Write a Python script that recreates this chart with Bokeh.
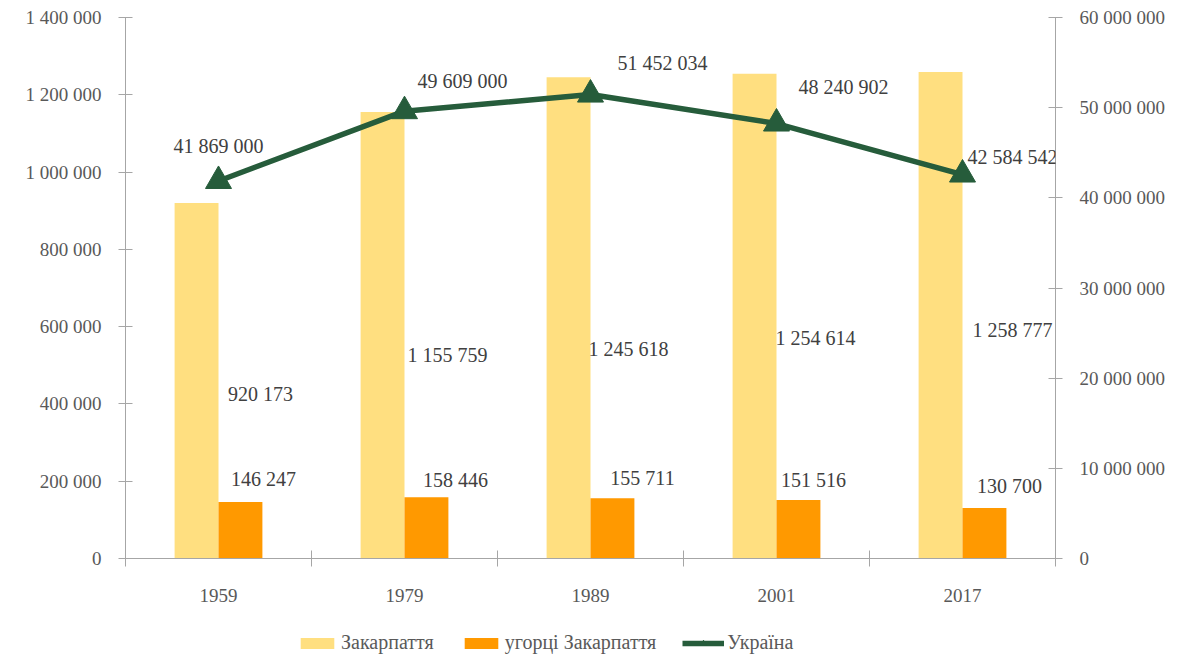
from bokeh.plotting import figure
from bokeh.layouts import column
from bokeh.models import Range1d, LinearAxis, FixedTicker, Legend, LegendItem, Label
from bokeh.embed import file_html
from bokeh.resources import INLINE

# ---- data ----
years = ["1959", "1979", "1989", "2001", "2017"]
zakarpattia = [920173, 1155759, 1245618, 1254614, 1258777]
hungarians = [146247, 158446, 155711, 151516, 130700]
ukraine = [41869000, 49609000, 51452034, 48240902, 42584542]
left_ticks = [0, 200000, 400000, 600000, 800000, 1000000, 1200000, 1400000]
right_ticks = [0, 10000000, 20000000, 30000000, 40000000, 50000000, 60000000]
series_names = ["Закарпаття", "угорці Закарпаття", "Україна"]

# ---- label placement (pixels) ----
zak_dx = [42, 43, 38, 39, 50]
zak_dy = [13, 20, 31, 22, 15]
hun_dx = [45, 51, 52, 37, 47]
hun_dy = [-23, -17, -20, -20, -22]
ukr_dx = [0, 58, 72, 67, 50]
ukr_dy = [-35, -30, -32, -37, -18]


def fmt(v):
    return f"{int(v):,}".replace(",", " ")


FONT = "Liberation Serif"
AXIS_COLOR = "#a6a6a6"
TICK_TEXT = "#595959"
LABEL_TEXT = "#404040"
YELLOW = "#ffdf80"
ORANGE = "#ff9900"
GREEN = "#265c3b"
TICK_SIZE = "19px"
LABEL_SIZE = "20px"
NAN = float("nan")

n = len(years)
xc = [i + 0.5 for i in range(n)]
bw = 0.236

p = figure(frame_width=930, frame_height=541, x_range=Range1d(0, n), y_range=Range1d(0, 1400000),
           x_axis_type=None, y_axis_type=None, output_backend="svg", toolbar_location=None,
           min_border_left=125, min_border_right=135, min_border_top=17, min_border_bottom=50)
p.extra_y_ranges = {"ukr": Range1d(0, 60000000)}
p.xgrid.visible = False
p.ygrid.visible = False
p.outline_line_color = None


def style_axis(ax):
    ax.axis_line_color = AXIS_COLOR
    ax.major_tick_line_color = AXIS_COLOR
    ax.minor_tick_line_color = AXIS_COLOR
    ax.major_label_text_font = FONT
    ax.major_label_text_font_size = TICK_SIZE
    ax.major_label_text_color = TICK_TEXT


xaxis = LinearAxis(ticker=FixedTicker(ticks=xc, minor_ticks=list(range(n + 1))))
style_axis(xaxis)
xaxis.major_tick_in = 0
xaxis.major_tick_out = 0
xaxis.minor_tick_in = 8
xaxis.minor_tick_out = 8
xaxis.major_label_standoff = 22
xaxis.major_label_overrides = {x: y for x, y in zip(xc, years)}
p.add_layout(xaxis, "below")

yl = LinearAxis(ticker=FixedTicker(ticks=left_ticks, minor_ticks=[]))
style_axis(yl)
yl.major_tick_in = 7
yl.major_tick_out = 7
yl.major_label_standoff = 17
yl.major_label_overrides = {t: fmt(t) for t in left_ticks}
p.add_layout(yl, "left")

yr = LinearAxis(y_range_name="ukr", ticker=FixedTicker(ticks=right_ticks, minor_ticks=[]))
style_axis(yr)
yr.major_tick_in = 7
yr.major_tick_out = 7
yr.major_label_standoff = 17
yr.major_label_overrides = {t: fmt(t) for t in right_ticks}
p.add_layout(yr, "right")

# bars
p.vbar(x=[x - bw / 2 for x in xc], top=zakarpattia, width=bw, fill_color=YELLOW, line_color=None)
p.vbar(x=[x + bw / 2 for x in xc], top=hungarians, width=bw, fill_color=ORANGE, line_color=None)

# line
p.line(xc, ukraine, y_range_name="ukr", line_color=GREEN, line_width=5.5)
p.scatter(xc, ukraine, y_range_name="ukr", marker="triangle", size=26,
          fill_color=GREEN, line_color=GREEN)


def add_label(x, y, txt, dx, dy, rng="default"):
    p.add_layout(Label(x=x, y=y, text=txt, x_offset=dx, y_offset=-dy, y_range_name=rng,
                       text_align="center", text_baseline="middle", text_font=FONT,
                       text_font_size=LABEL_SIZE, text_color=LABEL_TEXT))


for i in range(n):
    add_label(xc[i], zakarpattia[i] / 2, fmt(zakarpattia[i]), zak_dx[i], zak_dy[i])
    add_label(xc[i], hungarians[i], fmt(hungarians[i]), hun_dx[i], hun_dy[i])
    add_label(xc[i], ukraine[i], fmt(ukraine[i]), ukr_dx[i], ukr_dy[i], "ukr")

# ---- legend strip (separate figure; its glyphs fall outside its 0..1 range, so only the legend shows) ----
lg = figure(width=1190, height=51, x_range=Range1d(0, 1), y_range=Range1d(0, 1),
            x_axis_type=None, y_axis_type=None, output_backend="svg", toolbar_location=None,
            min_border=0, title=None)
lg.xgrid.visible = False
lg.ygrid.visible = False
lg.outline_line_color = None
r1 = lg.vbar(x=[NAN], top=[NAN], width=bw, fill_color=YELLOW, line_color=None)
r2 = lg.vbar(x=[NAN], top=[NAN], width=bw, fill_color=ORANGE, line_color=None)
r3 = lg.line(x=xc, y=ukraine, line_color=GREEN, line_width=5.5)
r4 = lg.scatter(x=xc, y=ukraine, marker="triangle", size=22, fill_color=GREEN, line_color=GREEN)

legend = Legend(items=[LegendItem(label=series_names[0], renderers=[r1]),
                       LegendItem(label=series_names[1], renderers=[r2]),
                       LegendItem(label=series_names[2], renderers=[r3, r4])],
                orientation="horizontal", location=(171, 5), glyph_width=42, glyph_height=14,
                label_standoff=3, spacing=26, padding=0, margin=0, border_line_color=None,
                background_fill_alpha=0, label_text_font=FONT, label_text_font_size="20px",
                label_text_color=TICK_TEXT)
lg.add_layout(legend, "center")

layout = column(p, lg, spacing=0)
open("out.html", "w").write(file_html(layout, INLINE))
